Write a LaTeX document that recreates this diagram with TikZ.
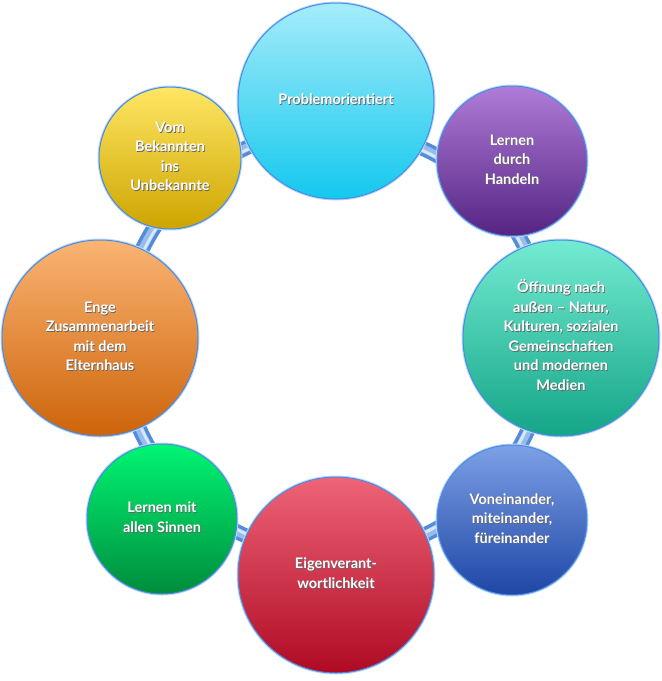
\documentclass[tikz,border=0pt]{standalone}
\usepackage{fontspec}
\setmainfont{Lato}
\usetikzlibrary{positioning}
\definecolor{RingBlue}{RGB}{85, 140, 218}
\definecolor{RingLight}{RGB}{150, 188, 238}
\definecolor{RingShine}{RGB}{215, 230, 248}
\definecolor{Glow}{RGB}{70, 140, 230}
\definecolor{CyanTop}{RGB}{165, 236, 250}
\definecolor{CyanBot}{RGB}{20, 200, 238}
\definecolor{PurpleTop}{RGB}{175, 125, 215}
\definecolor{PurpleBot}{RGB}{85, 35, 130}
\definecolor{TealTop}{RGB}{115, 235, 210}
\definecolor{TealBot}{RGB}{20, 165, 135}
\definecolor{BlueTop}{RGB}{125, 160, 230}
\definecolor{BlueBot}{RGB}{30, 70, 165}
\definecolor{RedTop}{RGB}{238, 100, 120}
\definecolor{RedMid}{RGB}{232, 18, 42}
\definecolor{RedBot}{RGB}{175, 10, 35}
\definecolor{GreenTop}{RGB}{0, 245, 115}
\definecolor{GreenBot}{RGB}{0, 140, 60}
\definecolor{OrangeTop}{RGB}{250, 180, 115}
\definecolor{OrangeMid}{RGB}{250, 130, 20}
\definecolor{OrangeBot}{RGB}{205, 100, 10}
\definecolor{YellowTop}{RGB}{255, 230, 100}
\definecolor{YellowMid}{RGB}{255, 215, 0}
\definecolor{YellowBot}{RGB}{205, 165, 0}
\newcommand{\bubtext}[1]{\makebox[0pt][l]{\hspace{0.8pt}\raisebox{-0.8pt}{\color{black!60}\begin{tabular}{@{}c@{}}#1\end{tabular}}}\begin{tabular}{@{}c@{}}#1\end{tabular}}

\begin{document}
\begin{tikzpicture}[
          x=1pt, y=-1pt,
          bubble/.style={circle, inner sep=0pt, draw=Glow, line width=1pt,
                         preaction={draw=Glow!35, line width=3pt},
                         text=white, font=\fontsize{14.5}{19.5}\selectfont\bfseries},
          big/.style={bubble, minimum size=196pt},
          small/.style={bubble, minimum size=150pt},
          tiny/.style={bubble, minimum size=142pt}
        ]
        \useasboundingbox (0,0) rectangle (662,681);
        % ring behind the bubbles
        \coordinate (mid) at (334,342);
        \draw[RingBlue, line width=15pt] (mid) circle (213);
        \draw[RingLight, line width=8pt] (mid) circle (213);
        \draw[RingShine, line width=3pt] (mid) circle (211);
        % bubbles
        \node[big, top color=CyanTop, bottom color=CyanBot] (prob) at (336,101)
          {\bubtext{Problemorientiert}};
        \node[small, top color=PurpleTop, bottom color=PurpleBot] (hand) at (512,161)
          {\bubtext{Lernen\\durch\\Handeln}};
        \node[big, top color=TealTop, bottom color=TealBot] (offen) at (561,338)
          {\bubtext{Öffnung nach\\außen – Natur,\\Kulturen, sozialen\\Gemeinschaften\\und modernen\\Medien}};
        \node[small, top color=BlueTop, bottom color=BlueBot] (mit) at (512,520)
          {\bubtext{Voneinander,\\miteinander,\\füreinander}};
        \node[big, top color=RedTop, middle color=RedMid, bottom color=RedBot] (eigen) at (336,575)
          {\bubtext{Eigenverant-\\wortlichkeit}};
        \node[small, top color=GreenTop, bottom color=GreenBot] (sinne) at (162,519)
          {\bubtext{Lernen mit\\allen Sinnen}};
        \node[big, top color=OrangeTop, middle color=OrangeMid, bottom color=OrangeBot] (eltern) at (100,338)
          {\bubtext{Enge\\Zusammenarbeit\\mit dem\\Elternhaus}};
        \node[tiny, top color=YellowTop, middle color=YellowMid, bottom color=YellowBot] (bekannt) at (170,158)
          {\bubtext{Vom\\Bekannten\\ins\\Unbekannte}};
      \end{tikzpicture}
\end{document}
